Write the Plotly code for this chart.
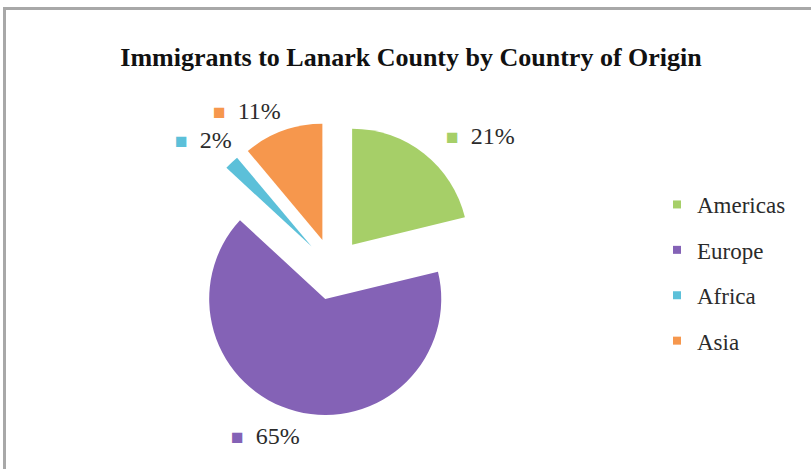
import plotly.graph_objects as go

# ---- data ----
regions = ["Americas", "Europe", "Africa", "Asia"]
shares = [21, 65, 2, 11]
colors = ["#a6cf68", "#8462b6", "#5cc0d9", "#f6974d"]
title_text = "Immigrants to Lanark County by Country of Origin"

W, H = 811, 469

def px(x):
    return x / W

def py(y):
    return 1 - y / H

fig = go.Figure()

fig.add_trace(go.Pie(
    labels=regions,
    values=shares,
    sort=False,
    direction="clockwise",
    rotation=0,
    pull=[0.267] * len(shares),
    marker=dict(colors=colors, line=dict(width=0)),
    textinfo="none",
    hoverinfo="label+percent",
    showlegend=False,
    domain=dict(x=[px(186), px(480)], y=[py(416), py(122)]),
))

# legend entries (one per region)
for name, col in zip(regions, colors):
    fig.add_trace(go.Scatter(
        x=[None], y=[None], mode="markers", name=name,
        legendgroup=name,
        marker=dict(symbol="square", size=8, color=col),
        hoverinfo="skip",
    ))

# data labels with small colour keys
label_pos = {  # left x, centre y in pixels
    "Americas": (444, 136),
    "Europe": (229, 436),
    "Africa": (173, 140),
    "Asia": (211, 111),
}
annotations = []
for name, val, col in zip(regions, shares, colors):
    lx, ly = label_pos[name]
    annotations.append(dict(
        x=px(lx), y=py(ly), xref="paper", yref="paper",
        xanchor="left", yanchor="middle", showarrow=False,
        text=f'<span style="font-size:21px;color:{col}">■</span>&nbsp;&nbsp;{val}%',
        font=dict(family="Liberation Serif, Times New Roman, serif", size=24, color="#2b2b2b"),
    ))

fig.update_layout(
    width=W, height=H,
    margin=dict(l=0, r=0, t=0, b=0),
    paper_bgcolor="white",
    plot_bgcolor="white",
    title=dict(
        text=f"<b>{title_text}</b>",
        x=px(411), xanchor="center",
        y=py(57), yref="container", yanchor="middle",
        font=dict(family="Liberation Serif, Times New Roman, serif", size=26, color="#111111"),
    ),
    xaxis=dict(visible=False),
    yaxis=dict(visible=False),
    legend=dict(
        x=px(657), y=py(183), xanchor="left", yanchor="top",
        tracegroupgap=12.5,
        font=dict(family="Liberation Serif, Times New Roman, serif", size=23, color="#2b2b2b"),
        bgcolor="rgba(0,0,0,0)",
    ),
    annotations=annotations,
    shapes=[dict(
        type="rect", xref="paper", yref="paper",
        x0=px(4.5), x1=1.05, y0=-0.05, y1=py(8.5),
        line=dict(color="#a8a8a8", width=3),
    )],
)

fig.write_html("out.html")
